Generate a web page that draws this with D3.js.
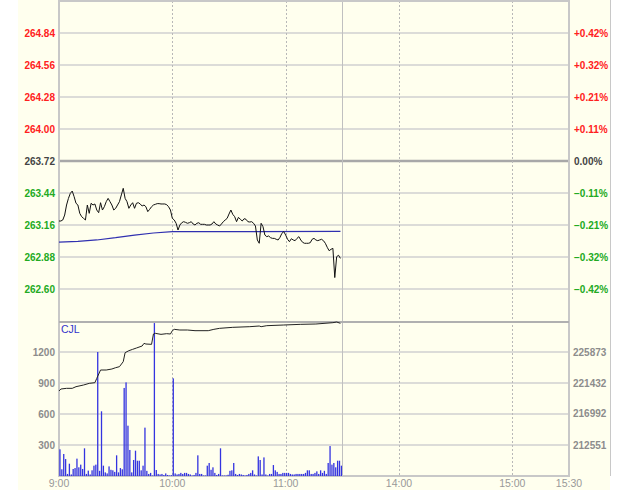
<!DOCTYPE html>
<html>
<head>
<meta charset="utf-8">
<script src="https://cdn.jsdelivr.net/npm/d3@7"></script>
<style>
  body { margin: 0; background: #fff; }
  text { font-family: "Liberation Sans", Arial, sans-serif; }
</style>
</head>
<body>
<script>
// minute index 0..149 = 9:00..11:29
var prices = [263.195,263.195,263.204,263.247,263.335,263.393,263.437,263.457,263.408,263.350,
  263.335,263.262,263.233,263.218,263.204,263.335,263.262,263.350,263.335,263.344,
  263.291,263.268,263.355,263.291,263.320,263.364,263.393,263.364,263.335,263.291,
  263.306,263.335,263.364,263.423,263.481,263.393,263.364,263.306,263.335,263.355,
  263.306,263.350,263.355,263.344,263.326,263.335,263.320,263.277,263.297,263.320,
  263.335,263.341,263.347,263.347,263.344,263.344,263.344,263.338,263.320,263.291,
  263.218,263.204,263.175,263.116,263.160,263.180,263.189,263.183,263.175,263.180,
  263.189,263.169,263.160,263.175,263.180,263.166,263.166,263.166,263.160,263.160,
  263.160,263.169,263.189,263.169,263.160,263.151,263.169,263.189,263.204,263.218,
  263.256,263.291,263.253,263.233,263.189,263.227,263.210,263.195,263.215,263.210,
  263.189,263.186,263.189,263.175,263.151,263.029,263.000,263.175,263.145,263.072,
  263.058,263.064,263.049,263.043,263.043,263.035,263.029,263.052,263.087,263.102,
  263.072,263.035,263.014,263.040,263.029,263.023,263.043,263.058,263.029,263.008,
  263.000,263.000,263.000,263.005,263.035,263.043,263.029,263.023,263.029,263.035,
  263.023,263.000,262.965,262.935,262.947,262.956,262.700,262.883,262.895,262.868];

var avgTimes = [0,10,20,30,35,40,50,60,100,149];
var avgValues = [263.011,263.017,263.029,263.049,263.061,263.072,263.090,263.102,263.102,263.105];

var volumes = [258,65,213,164,20,119,15,68,77,168,
  84,110,68,268,20,52,15,55,100,110,
  1200,50,626,100,35,25,93,60,55,40,
  200,35,77,65,852,906,487,252,35,155,
  245,148,148,55,100,468,50,20,30,5,
  1480,58,20,15,20,10,25,10,5,8,
  945,25,15,20,30,20,30,30,20,15,
  5,10,30,200,20,20,5,5,100,126,
  60,84,30,10,20,268,5,5,5,12,
  50,55,126,20,10,20,15,10,5,10,
  20,30,55,15,5,190,155,15,180,15,
  5,20,20,106,55,40,20,20,30,30,
  30,30,20,15,15,20,20,20,20,20,
  30,55,55,20,20,30,45,20,55,30,
  50,20,126,290,110,126,84,148,148,100];

// open interest line (right axis of lower panel)
var oiTimes = [0,1,4,7,9,13,16,19,20,22,25,28,30,32,34,35,37,39,41,44,45,46,49,50,51,54,57,59,60,61,64,68,72,79,82,85,92,101,106,107,110,119,128,136,145,147,149];
var oiValues = [220285,220571,220667,220667,220906,221145,221383,221479,222099,223293,223293,223436,223627,223770,224487,225776,226062,226254,226445,226731,227113,227018,226970,228450,228545,228402,228498,228450,228928,229119,229023,229023,228928,228928,229119,229262,229405,229500,229596,229500,229644,229739,229835,229883,230074,230169,229978];

var priceTicks = [262.60,262.88,263.16,263.44,263.72,264.00,264.28,264.56,264.84];
var basePrice = 263.72;
var volTicks = [300,600,900,1200];
var oiTicks = [212551,216992,221432,225873];
var timeTicks = [0,60,120,180,240,270];
var timeLabels = ["9:00","10:00","11:00","14:00","15:00","15:30"];
var dashedTimes = [60,120,180,240];
var breakTime = 150;

var width = 630, height = 490;
var left = 59, right = 569;
var pTop = 1, pBottom = 321, vTop = 321, vBottom = 476;

var svg = d3.select("body").append("svg")
  .attr("width", width)
  .attr("height", height);

svg.append("rect")
  .attr("x", 18).attr("y", 0)
  .attr("width", 592).attr("height", height)
  .attr("fill", "#ffffee");
svg.append("line")
  .attr("x1", 610.5).attr("x2", 610.5).attr("y1", 0).attr("y2", 476)
  .attr("stroke", "#c8c8c8");

var x = d3.scaleLinear().domain([0, 270]).range([left, right]);
var yP = d3.scaleLinear().domain([basePrice - 1.4, basePrice + 1.4]).range([pBottom, pTop]);
var yV = d3.scaleLinear().domain([0, 1500]).range([vBottom, vTop]);
var yOI = d3.scaleLinear().domain([oiTicks[0], oiTicks[3]]).range([yV(volTicks[0]), yV(volTicks[3])]);

// horizontal grid
svg.append("g").selectAll("line")
  .data(priceTicks)
  .join("line")
  .attr("x1", left).attr("x2", right)
  .attr("y1", d => yP(d)).attr("y2", d => yP(d))
  .attr("stroke", d => d === basePrice ? "#a8a8a8" : "#d0d0d0")
  .attr("stroke-width", d => d === basePrice ? 2.5 : 1.5);

svg.append("g").selectAll("line")
  .data(volTicks)
  .join("line")
  .attr("x1", left).attr("x2", right)
  .attr("y1", d => yV(d)).attr("y2", d => yV(d))
  .attr("stroke", "#d0d0d0")
  .attr("stroke-width", 1.5);

// vertical grid
svg.append("g").selectAll("line")
  .data(dashedTimes)
  .join("line")
  .attr("x1", d => Math.round(x(d)) + 0.5).attr("x2", d => Math.round(x(d)) + 0.5)
  .attr("y1", pTop).attr("y2", vBottom)
  .attr("stroke", "#b8b8b8")
  .attr("stroke-dasharray", "2,2");

svg.append("line")
  .attr("x1", Math.round(x(breakTime)) + 0.5).attr("x2", Math.round(x(breakTime)) + 0.5)
  .attr("y1", pTop).attr("y2", vBottom)
  .attr("stroke", "#c0c0c0");

// frame
svg.append("rect")
  .attr("x", left).attr("y", pTop)
  .attr("width", right - left).attr("height", vBottom - pTop)
  .attr("fill", "none")
  .attr("stroke", "#c8c8c8")
  .attr("stroke-width", 2);
svg.append("line")
  .attr("x1", left).attr("x2", right)
  .attr("y1", vTop + 1).attr("y2", vTop + 1)
  .attr("stroke", "#b0b0b0")
  .attr("stroke-width", 2);

// price axis labels
var pctFmt = d3.format("+.2f");
svg.append("g").selectAll("text")
  .data(priceTicks)
  .join("text")
  .attr("x", 55).attr("y", d => yP(d) + 3.5)
  .attr("text-anchor", "end")
  .attr("font-size", 10).attr("font-weight", "bold")
  .attr("fill", d => d > basePrice ? "#ff2020" : d < basePrice ? "#22aa22" : "#444")
  .text(d => d.toFixed(2));

svg.append("g").selectAll("text")
  .data(priceTicks)
  .join("text")
  .attr("x", 574).attr("y", d => yP(d) + 3.5)
  .attr("font-size", 10).attr("font-weight", "bold")
  .attr("fill", d => d > basePrice ? "#ff2020" : d < basePrice ? "#22aa22" : "#444")
  .text(d => {
    var p = (d - basePrice) / basePrice * 100;
    return d === basePrice ? "0.00%" : pctFmt(p) + "%";
  });

// volume axis labels
svg.append("g").selectAll("text")
  .data(volTicks)
  .join("text")
  .attr("x", 55).attr("y", d => yV(d) + 3.5)
  .attr("text-anchor", "end")
  .attr("font-size", 10).attr("font-weight", "bold")
  .attr("fill", "#8c8c8c")
  .text(d => d);

svg.append("g").selectAll("text")
  .data(oiTicks)
  .join("text")
  .attr("x", 573).attr("y", d => yOI(d) + 3.5)
  .attr("font-size", 10).attr("font-weight", "bold")
  .attr("fill", "#8c8c8c")
  .text(d => d);

// time labels
svg.append("g").selectAll("text")
  .data(timeTicks)
  .join("text")
  .attr("x", d => x(d)).attr("y", 487)
  .attr("text-anchor", "middle")
  .attr("font-size", 10.5)
  .attr("fill", "#999")
  .text((d, i) => timeLabels[i]);

// volume bars
svg.append("g").selectAll("rect")
  .data(volumes)
  .join("rect")
  .attr("x", (d, i) => x(i) + 0.3)
  .attr("y", d => yV(d))
  .attr("width", 1.3)
  .attr("height", d => vBottom - yV(d))
  .attr("fill", "#3434e0");

// open interest line
var oiLine = d3.line()
  .x((d, i) => x(oiTimes[i]))
  .y(d => yOI(d));
svg.append("path")
  .datum(oiValues)
  .attr("fill", "none")
  .attr("stroke", "#222")
  .attr("stroke-width", 1)
  .attr("d", oiLine);

svg.append("text")
  .attr("x", 61).attr("y", 333)
  .attr("font-size", 10.5)
  .attr("fill", "#3333cc")
  .text("CJL");

// average price line
var avgLine = d3.line()
  .x((d, i) => x(avgTimes[i]))
  .y(d => yP(d));
svg.append("path")
  .datum(avgValues)
  .attr("fill", "none")
  .attr("stroke", "#3030b0")
  .attr("stroke-width", 1.2)
  .attr("d", avgLine);

// price line
var priceLine = d3.line()
  .x((d, i) => x(i))
  .y(d => yP(d));
svg.append("path")
  .datum(prices)
  .attr("fill", "none")
  .attr("stroke", "#111")
  .attr("stroke-width", 1)
  .attr("stroke-linejoin", "round")
  .attr("d", priceLine);
</script>
</body>
</html>
